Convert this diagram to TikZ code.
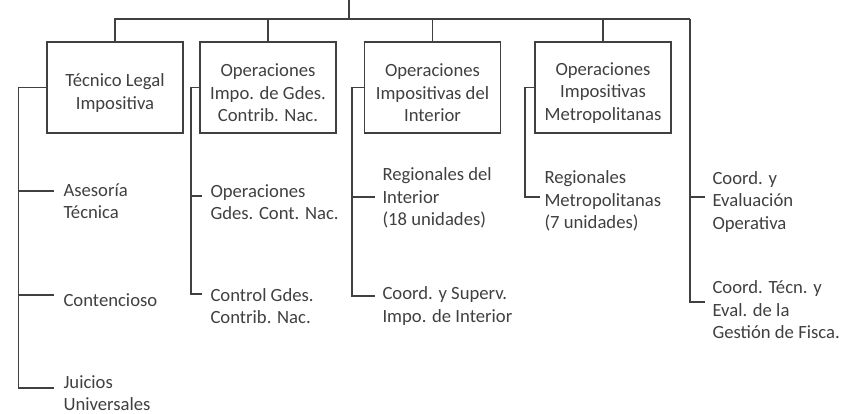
\documentclass[tikz,border=0pt]{standalone}
\usepackage{fontspec}
\setmainfont{Carlito}
\usepackage{xcolor}
\usetikzlibrary{calc}
\definecolor{ink}{RGB}{64,64,64}
\newcommand{\tstrut}{\rule{0pt}{18pt}}

\begin{document}
\begin{tikzpicture}[x=0.75pt, y=-0.75pt, color=ink, line width=0.8pt,
        every node/.style={font=\fontsize{14}{16.9}\selectfont, inner sep=0pt},
        unitbox/.style={draw, minimum width=102pt, minimum height=68.25pt, align=center},
        sublabel/.style={anchor=west, align=left}]
        \useasboundingbox (0,0) rectangle (858,414);

        % Units
        \node[unitbox] (tli)  at (115,87.5)   {\tstrut Técnico Legal\\Impositiva};
        \node[unitbox] (oigc) at (268,87.5)   {\tstrut Operaciones\\Impo. de Gdes.\\Contrib. Nac.};
        \node[unitbox] (oii)  at (432.5,87.5) {\tstrut Operaciones\\Impositivas del\\Interior};
        \node[unitbox] (oim)  at (603,87.5)   {\tstrut Operaciones\\Impositivas\\Metropolitanas};

        % Sub-units
        \node[sublabel] (ase)  at (63,201)  {Asesoría\\Técnica};
        \node[sublabel] (cont) at (63,300)  {Contencioso};
        \node[sublabel] (juic) at (63,393)  {Juicios\\Universales};
        \node[sublabel] (ogcn) at (210,202) {Operaciones\\Gdes. Cont. Nac.};
        \node[sublabel] (cgcn) at (210,306) {Control Gdes.\\Contrib. Nac.};
        \node[sublabel] (rint) at (382,198) {Regionales del\\Interior\\(18 unidades)};
        \node[sublabel] (csii) at (382,306) {Coord. y Superv.\\Impo. de Interior};
        \node[sublabel] (rmet) at (544,201) {Regionales\\Metropolitanas\\(7 unidades)};
        \node[sublabel] (ceo)  at (712,202) {Coord. y\\Evaluación\\Operativa};
        \node[sublabel] (cteg) at (712,310) {Coord. Técn. y\\Eval. de la\\Gestión de Fisca.};

        % Points
        \coordinate (top) at (349,0);
        \coordinate (bus) at (349,19);
        \coordinate (tli-x)  at (18.5,0);   % trunk columns
        \coordinate (oigc-x) at (191,0);
        \coordinate (oii-x)  at (352,0);
        \coordinate (oim-x)  at (525,0);
        \coordinate (ceo-x)  at (690,19);
        \coordinate (ase-in)  at (54,191);  % branch ends
        \coordinate (cont-in) at (54,295);
        \coordinate (juic-in) at (54,388);
        \coordinate (ogcn-in) at (202,196);
        \coordinate (cgcn-in) at (202,294);
        \coordinate (rint-in) at (375,197);
        \coordinate (csii-in) at (375,296);
        \coordinate (rmet-in) at (540,197);
        \coordinate (ceo-in)  at (705,197);
        \coordinate (cteg-in) at (705,302);

        % Draw bus
        \draw (top) -- (bus);
        \draw (tli.north) |- (ceo-x);
        \foreach \n in {oigc,oii,oim}
            \draw (\n.north) -- (\n.north |- bus);

        % Draw trunks and branches
        \draw (tli.west) -| (tli-x |- juic-in) -- (juic-in);
        \draw (tli-x |- ase-in) -- (ase-in);
        \draw (tli-x |- cont-in) -- (cont-in);

        \draw (oigc.west) -| (oigc-x |- cgcn-in) -- (cgcn-in);
        \draw (oigc-x |- ogcn-in) -- (ogcn-in);

        \draw (oii.west) -| (oii-x |- csii-in) -- (csii-in);
        \draw (oii-x |- rint-in) -- (rint-in);

        \draw (oim.west) -| (oim-x |- rmet-in) -- (rmet-in);

        \draw (ceo-x) |- (cteg-in);
        \draw (ceo-x |- ceo-in) -- (ceo-in);
    \end{tikzpicture}
\end{document}
